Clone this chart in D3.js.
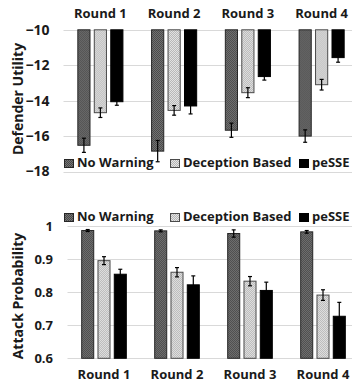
<!DOCTYPE html>
<html>
<head>
<meta charset="utf-8">
<script src="https://cdn.jsdelivr.net/npm/d3@7"></script>
<style>
  body { margin: 0; background: #fff; }
  text { font-family: "Open Sans", sans-serif; font-weight: bold; fill: #1a1a1a; }
</style>
</head>
<body>
<div class="chart"></div>
<script>
var svgWidth = 352;
var svgHeight = 383;

var rounds = ["Round 1", "Round 2", "Round 3", "Round 4"];
var series = ["No Warning", "Deception Based", "peSSE"];

// defender utility (top panel)
var utilNoWarning = [-16.52, -16.85, -15.67, -16.0];
var utilDeception = [-14.68, -14.55, -13.55, -13.1];
var utilPesse = [-14.06, -14.3, -12.64, -11.57];
var utilErrNoWarning = [0.4, 0.6, 0.4, 0.35];
var utilErrDeception = [0.27, 0.27, 0.28, 0.3];
var utilErrPesse = [0.2, 0.45, 0.2, 0.26];
var utilTicks = [-10, -12, -14, -16, -18];

// attack probability (bottom panel)
var probNoWarning = [0.986, 0.985, 0.977, 0.982];
var probDeception = [0.895, 0.86, 0.833, 0.791];
var probPesse = [0.854, 0.822, 0.805, 0.727];
var probErrNoWarning = [0.003, 0.003, 0.011, 0.004];
var probErrDeception = [0.012, 0.014, 0.014, 0.016];
var probErrPesse = [0.015, 0.027, 0.025, 0.042];
var probTicks = [1, 0.9, 0.8, 0.7, 0.6];

var svg = d3.select(".chart")
  .append("svg")
  .attr("width", svgWidth)
  .attr("height", svgHeight);

// checker patterns for the two grey series
var defs = svg.append("defs");
function checker(id, bg, fg) {
  var p = defs.append("pattern")
    .attr("id", id)
    .attr("width", 2)
    .attr("height", 2)
    .attr("patternUnits", "userSpaceOnUse");
  p.append("rect").attr("width", 2).attr("height", 2).attr("fill", bg);
  p.append("rect").attr("width", 1).attr("height", 1).attr("fill", fg);
  p.append("rect").attr("x", 1).attr("y", 1).attr("width", 1).attr("height", 1).attr("fill", fg);
}
checker("patDark", "#474747", "#767676");
checker("patLight", "#e6e6e6", "#b4b4b4");

var fills = ["url(#patDark)", "url(#patLight)", "#000"];
var strokes = ["#262626", "#4a4a4a", "#000"];

function makeRows(a, b, c, ea, eb, ec) {
  return rounds.map(function(r, i) {
    return {
      round: r,
      vals: [
        {s: series[0], v: a[i], e: ea[i], k: 0},
        {s: series[1], v: b[i], e: eb[i], k: 1},
        {s: series[2], v: c[i], e: ec[i], k: 2}
      ]
    };
  });
}

function drawPanel(opt) {
  var g = svg.append("g");

  var x0 = d3.scaleBand()
    .domain(rounds)
    .range(opt.xRange)
    .paddingInner(0.375)
    .paddingOuter(0.1875);

  var x1 = d3.scaleBand()
    .domain(series)
    .range([0, x0.bandwidth()])
    .paddingInner(0.2);

  var y = d3.scaleLinear()
    .domain(opt.domain)
    .range(opt.yRange);

  // gridlines
  g.selectAll(".grid")
    .data(opt.ticks)
    .enter()
    .append("line")
    .attr("x1", opt.xRange[0])
    .attr("x2", svgWidth)
    .attr("y1", d => Math.round(y(d)) + 0.5)
    .attr("y2", d => Math.round(y(d)) + 0.5)
    .attr("stroke", "#d9d9d9")
    .attr("stroke-width", 1);

  // tick labels via axis
  var axis = d3.axisLeft(y)
    .tickValues(opt.ticks)
    .tickFormat(opt.fmt)
    .tickSize(0)
    .tickPadding(0);
  var ag = g.append("g")
    .attr("transform", `translate(${opt.labelX}, 0)`)
    .call(axis);
  ag.select(".domain").remove();
  ag.selectAll("text")
    .attr("font-size", opt.tickSize)
    .attr("font-family", "'Open Sans', sans-serif")
    .attr("fill", "#1a1a1a");

  var rows = makeRows.apply(null, opt.data);

  var groups = g.selectAll(".grp")
    .data(rows)
    .enter()
    .append("g")
    .attr("transform", d => `translate(${x0(d.round)}, 0)`);

  groups.selectAll("rect")
    .data(d => d.vals)
    .enter()
    .append("rect")
    .attr("x", d => x1(d.s) + 0.5)
    .attr("width", x1.bandwidth() - 1)
    .attr("y", d => Math.min(y(d.v), y(opt.base)))
    .attr("height", d => Math.abs(y(d.v) - y(opt.base)))
    .attr("fill", d => fills[d.k])
    .attr("stroke", d => strokes[d.k])
    .attr("stroke-width", 1);

  // error bars
  var eb = groups.selectAll(".err")
    .data(d => d.vals)
    .enter()
    .append("g")
    .attr("stroke", "#000")
    .attr("stroke-width", 1.2);
  eb.append("line")
    .attr("x1", d => x1(d.s) + x1.bandwidth() / 2)
    .attr("x2", d => x1(d.s) + x1.bandwidth() / 2)
    .attr("y1", d => y(d.v - d.e))
    .attr("y2", d => y(d.v + d.e));
  [-1, 1].forEach(function(sg) {
    eb.append("line")
      .attr("x1", d => x1(d.s) + x1.bandwidth() / 2 - 2)
      .attr("x2", d => x1(d.s) + x1.bandwidth() / 2 + 2)
      .attr("y1", d => y(d.v + sg * d.e))
      .attr("y2", d => y(d.v + sg * d.e));
  });

  // round labels
  g.selectAll(".rl")
    .data(rounds)
    .enter()
    .append("text")
    .attr("x", d => x0(d) + x0.bandwidth() / 2)
    .attr("y", opt.roundY)
    .attr("text-anchor", "middle")
    .attr("font-size", 13)
    .text(d => d);

  // y axis title
  g.append("text")
    .attr("transform", `translate(23, ${opt.titleY}) rotate(-90)`)
    .attr("text-anchor", "middle")
    .attr("font-size", 14)
    .text(opt.title);

  // legend
  var lx = [64, 170, 299];
  var lg = g.selectAll(".leg")
    .data(series)
    .enter()
    .append("g")
    .attr("transform", (d, i) => `translate(${lx[i]}, ${opt.legendY})`);
  lg.append("rect")
    .attr("x", 0.5)
    .attr("y", -7.5)
    .attr("width", 9)
    .attr("height", 8)
    .attr("fill", (d, i) => fills[i])
    .attr("stroke", (d, i) => strokes[i]);
  lg.append("text")
    .attr("x", 13)
    .attr("y", 0)
    .attr("font-size", 13)
    .text(d => d);
}

drawPanel({
  data: [utilNoWarning, utilDeception, utilPesse, utilErrNoWarning, utilErrDeception, utilErrPesse],
  domain: [-10, -18],
  yRange: [29.8, 171.5],
  base: -10,
  ticks: utilTicks,
  fmt: d3.format("d"),
  xRange: [63.5, 358.5],
  labelX: 49.5,
  tickSize: 14,
  roundY: 18,
  title: "Defender Utility",
  titleY: 99,
  legendY: 167
});

drawPanel({
  data: [probNoWarning, probDeception, probPesse, probErrNoWarning, probErrDeception, probErrPesse],
  domain: [0.6, 1],
  yRange: [358.3, 225.9],
  base: 0.6,
  ticks: probTicks,
  fmt: d => d === 1 ? "1" : d3.format(".1f")(d),
  xRange: [67.5, 359.5],
  labelX: 53,
  tickSize: 13,
  roundY: 379,
  title: "Attack Probability",
  titleY: 296,
  legendY: 221
});
</script>
</body>
</html>
